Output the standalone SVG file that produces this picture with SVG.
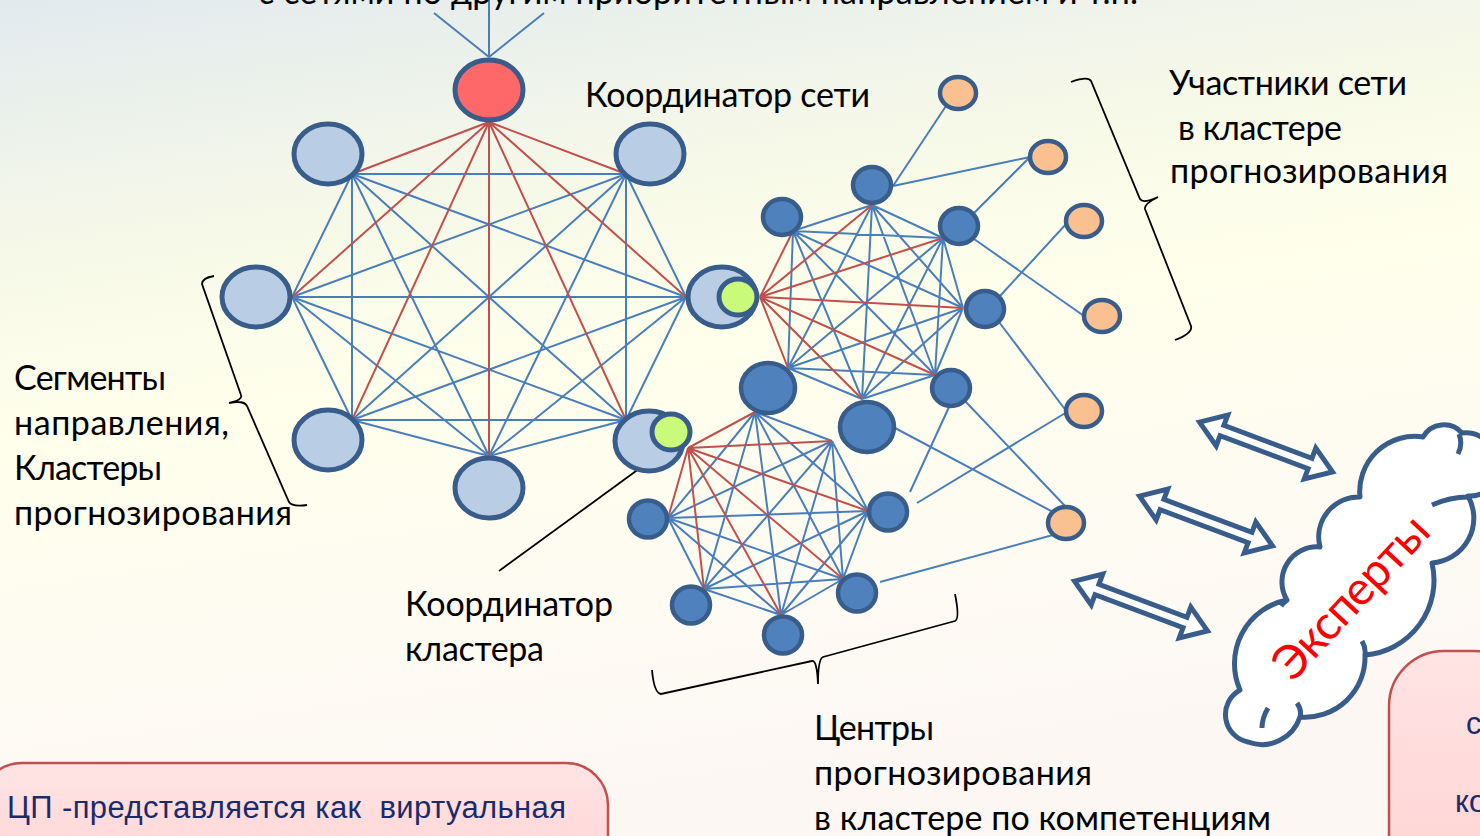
<svg xmlns="http://www.w3.org/2000/svg" width="1480" height="836" viewBox="0 0 1480 836">
<defs>
<linearGradient id="bg" x1="0" y1="0" x2="0.25" y2="1">
<stop offset="0" stop-color="#E2EAEE"/>
<stop offset="0.3" stop-color="#F7F9E8"/>
<stop offset="0.5" stop-color="#FFFFEC"/>
<stop offset="0.8" stop-color="#FEFBF3"/>
<stop offset="1" stop-color="#FCF7F3"/>
</linearGradient>
<linearGradient id="pink" x1="0" y1="0" x2="0" y2="1">
<stop offset="0" stop-color="#FFE4E4"/>
<stop offset="1" stop-color="#FFD2D2"/>
</linearGradient>
<path id="dblarrow" d="M-71,0 L-47,-16.5 L-47,-5.5 L47,-5.5 L47,-16.5 L71,0 L47,16.5 L47,5.5 L-47,5.5 L-47,16.5 Z"/>
<style>
.lbl{font-family:Lato,'Open Sans','DejaVu Sans',sans-serif;font-size:34px;fill:#000}
.box{font-family:'Liberation Sans',Arial,sans-serif;font-size:31px;fill:#1B2A6B}
.blue{stroke:#4A7EBB;stroke-width:2;fill:none}
.red{stroke:#C0504D;stroke-width:2;fill:none}
.oct{fill:#B9CDE5;stroke:#385D8A;stroke-width:5}
.dk{fill:#4F81BD;stroke:#385D8A;stroke-width:4.5}
.org{fill:#FAC090;stroke:#385D8A;stroke-width:4.5}
.grn{fill:#C9FA79;stroke:#385D8A;stroke-width:5}
.brace{stroke:#000;stroke-width:1.8;fill:none}
.arr{fill:#FFFFFF;stroke:#385D8A;stroke-width:5;stroke-linejoin:miter}
.pbox{fill:url(#pink);stroke:#C0504D;stroke-width:2.5}
</style>
</defs>
<rect x="0" y="0" width="1480" height="836" fill="url(#bg)"/>

<g id="connectors">
<path class="blue" d="M434,13L489,57 M489,0L489,57 M544,13L489,57"/>
<path class="blue" d="M626,174L686,297 M626,174L626,420 M626,174L489,456 M626,174L352,420 M626,174L292,297 M626,174L352,174 M686,297L626,420 M686,297L489,456 M686,297L352,420 M686,297L292,297 M686,297L352,174 M626,420L489,456 M626,420L352,420 M626,420L292,297 M626,420L352,174 M489,456L352,420 M489,456L292,297 M489,456L352,174 M352,420L292,297 M352,420L352,174 M292,297L352,174"/>
<path class="red" d="M489,122L626,174 M489,122L686,297 M489,122L626,420 M489,122L489,456 M489,122L352,420 M489,122L292,297 M489,122L352,174"/>
<path class="blue" d="M793,231L872,205 M793,231L943,238 M793,231L963,308 M793,231L935,375 M793,231L862,399 M793,231L788,368 M872,205L943,238 M872,205L963,308 M872,205L935,375 M872,205L862,399 M872,205L788,368 M943,238L963,308 M943,238L935,375 M943,238L862,399 M943,238L788,368 M963,308L935,375 M963,308L862,399 M963,308L788,368 M935,375L862,399 M935,375L788,368 M862,399L788,368"/>
<path class="red" d="M760,297L793,231 M760,297L872,205 M760,297L943,238 M760,297L963,308 M760,297L935,375 M760,297L862,399 M760,297L788,368"/>
<path class="blue" d="M755,412L832,441 M755,412L868,511 M755,412L843,579 M755,412L781,615 M755,412L704,589 M755,412L668,518 M832,441L868,511 M832,441L843,579 M832,441L781,615 M832,441L704,589 M832,441L668,518 M868,511L843,579 M868,511L781,615 M868,511L704,589 M868,511L668,518 M843,579L781,615 M843,579L704,589 M843,579L668,518 M781,615L704,589 M781,615L668,518 M704,589L668,518"/>
<path class="red" d="M688,448L755,412 M688,448L832,441 M688,448L868,511 M688,448L843,579 M688,448L781,615 M688,448L704,589 M688,448L668,518"/>
<path class="blue" d="M893,186L946,106 M893,186L1030,157 M974,213L1030,157 M1000,296L1067,223 M974,239L1084,316 M999,322L1067,412 M965,401L1066,507 M895,428L1053,512 M880,582L1053,535 M949,407L910,492 M1067,412L917,503"/>
<path d="M499,571L658,455" stroke="#000" stroke-width="1.8" fill="none"/>
</g>

<g id="node-top"><ellipse cx="489" cy="90" rx="34" ry="30" class="oct" style="fill:#FF6868"/></g>
<g id="node-ul"><ellipse cx="328" cy="154" rx="34" ry="30" class="oct"/></g>
<g id="node-ur"><ellipse cx="650" cy="154" rx="34" ry="30" class="oct"/></g>
<g id="node-l"><ellipse cx="256" cy="297" rx="34" ry="30" class="oct"/></g>
<g id="node-r"><ellipse cx="722" cy="297" rx="34" ry="30" class="oct"/><ellipse cx="738" cy="297" rx="19" ry="18" class="grn"/></g>
<g id="node-ll"><ellipse cx="328" cy="440" rx="34" ry="30" class="oct"/></g>
<g id="node-lr"><ellipse cx="649" cy="441" rx="34" ry="30" class="oct"/><ellipse cx="671" cy="432" rx="19" ry="18" class="grn"/></g>
<g id="node-b"><ellipse cx="489" cy="488" rx="34" ry="30" class="oct"/></g>

<g id="node-a1"><ellipse cx="782" cy="217" rx="19" ry="18" class="dk"/></g>
<g id="node-a2"><ellipse cx="872" cy="185" rx="19" ry="18" class="dk"/></g>
<g id="node-a3"><ellipse cx="959" cy="226" rx="19" ry="18" class="dk"/></g>
<g id="node-a4"><ellipse cx="985" cy="309" rx="19" ry="18" class="dk"/></g>
<g id="node-a5"><ellipse cx="951" cy="388" rx="19" ry="18" class="dk"/></g>
<g id="node-a6"><ellipse cx="867" cy="427" rx="27" ry="25" class="dk"/></g>
<g id="node-a7"><ellipse cx="768" cy="388" rx="27" ry="25" class="dk"/></g>
<g id="node-b-left"><ellipse cx="648" cy="519" rx="19" ry="18.5" class="dk"/></g>
<g id="node-b-botleft"><ellipse cx="691" cy="605" rx="19" ry="18.5" class="dk"/></g>
<g id="node-b-bottom"><ellipse cx="783" cy="635" rx="19" ry="18.5" class="dk"/></g>
<g id="node-b-botright"><ellipse cx="857" cy="593" rx="19" ry="18.5" class="dk"/></g>
<g id="node-b-right"><ellipse cx="888" cy="512" rx="19" ry="18.5" class="dk"/></g>

<g id="node-o1"><ellipse cx="958" cy="93" rx="18" ry="16" class="org"/></g>
<g id="node-o2"><ellipse cx="1048" cy="157" rx="18" ry="16" class="org"/></g>
<g id="node-o3"><ellipse cx="1084" cy="221" rx="18" ry="16" class="org"/></g>
<g id="node-o4"><ellipse cx="1102" cy="316" rx="18" ry="16" class="org"/></g>
<g id="node-o5"><ellipse cx="1084" cy="411" rx="18" ry="16" class="org"/></g>
<g id="node-o6"><ellipse cx="1066" cy="523" rx="18" ry="16" class="org"/></g>

<g id="braces">
<path class="brace" d="M214,276 Q202,278 202,284 L241,395 Q243,400 229,403 Q244,400 247,406 L289,502 Q292,507 307,505"/>
<path class="brace" d="M1071,82 Q1088,76 1091,81 L1140,199 Q1143,204 1158,197 Q1144,204 1145,209 L1191,326 Q1193,333 1175,340"/>
<path class="brace" d="M652,670 Q654,693 661,694 L812,661 Q817,660 818,684 Q818,659 823,657 L955,621 Q960,619 955,594"/>
</g>

<g id="arrows">
<use href="#dblarrow" class="arr" transform="translate(1266,447) rotate(20.5)"/>
<use href="#dblarrow" class="arr" transform="translate(1206,521) rotate(20.5)"/>
<use href="#dblarrow" class="arr" transform="translate(1141,606) rotate(20.5)"/>
</g>

<g id="box-left">
<rect x="-20" y="763" width="628" height="130" rx="42" class="pbox"/>
<text class="box" x="7" y="818" textLength="559" xml:space="preserve">ЦП -представляется как  виртуальная</text>
</g>
<g id="box-right">
<rect x="1389" y="651" width="140" height="250" rx="55" class="pbox"/>
<text class="box" x="1466" y="734">с</text>
<text class="box" x="1455" y="812">ко</text>
</g>

<g id="experts">
<path d="M1240,690 A65,65 0 0 1 1287,600 A35,35 0 0 1 1320,547 A40,40 0 0 1 1360,497 A55,55 0 0 1 1423,437 A24,24 0 0 1 1462,433 A30,30 0 0 1 1495,468 A25,25 0 0 1 1468,496 A45,45 0 0 1 1432,563 A75,75 0 0 1 1365,655 A60,60 0 0 1 1300,717 A40,40 0 0 1 1248,742 A28,28 0 0 1 1240,690 Z" fill="#FFFFFF" stroke="#385D8A" stroke-width="5" stroke-linejoin="round"/>
<path d="M1459,434 Q1463,444 1458,454 M1468,497 Q1450,497 1432,505 M1300,717 Q1302,710 1297,703 M1365,655 Q1366,648 1362,641 M1287,600 Q1283,603 1281,606 M1268,708 Q1262,718 1262,728" fill="none" stroke="#385D8A" stroke-width="5" stroke-linecap="butt"/>
<text x="0" y="16" transform="translate(1351,597) rotate(-47)" text-anchor="middle" textLength="205" font-family="Lato,'Open Sans','DejaVu Sans',sans-serif" font-size="47" fill="#FF0000">Эксперты</text>
</g>

<g id="labels">
<text class="lbl" x="258" y="4" textLength="880">с сетями по другим приоритетным направлением и т.п.</text>
<text class="lbl" x="585" y="107" textLength="285">Координатор сети</text>
<text class="lbl" x="1169" y="95" textLength="238">Участники сети</text>
<text class="lbl" x="1178" y="140" textLength="164">в кластере</text>
<text class="lbl" x="1170" y="183" textLength="278">прогнозирования</text>
<text class="lbl" x="14" y="390" textLength="152">Сегменты</text>
<text class="lbl" x="14" y="435" textLength="215">направления,</text>
<text class="lbl" x="14" y="480" textLength="148">Кластеры</text>
<text class="lbl" x="14" y="525" textLength="278">прогнозирования</text>
<text class="lbl" x="405" y="616" textLength="208">Координатор</text>
<text class="lbl" x="405" y="661" textLength="139">кластера</text>
<text class="lbl" x="814" y="740" textLength="120">Центры</text>
<text class="lbl" x="814" y="785" textLength="278">прогнозирования</text>
<text class="lbl" x="814" y="830" textLength="457">в кластере по компетенциям</text>
</g>
</svg>
